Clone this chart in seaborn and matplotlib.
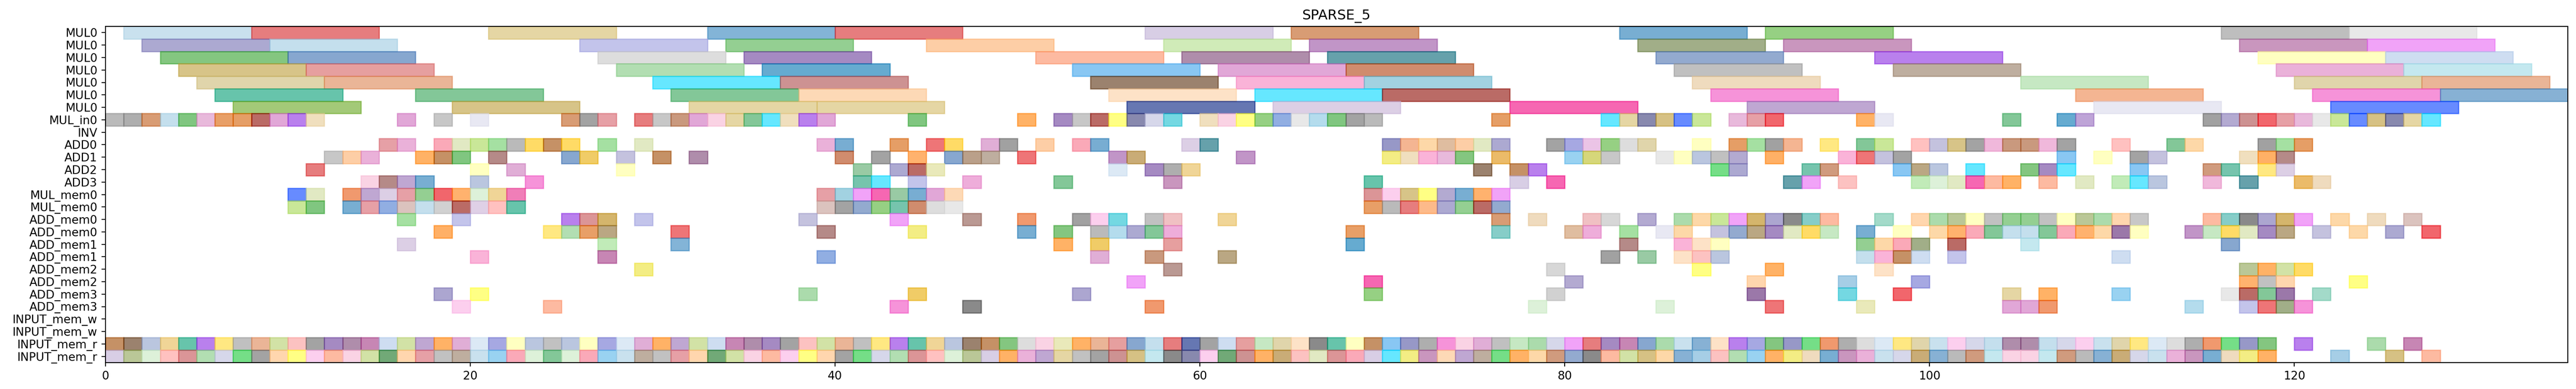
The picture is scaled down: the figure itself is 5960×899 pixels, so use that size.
import matplotlib
matplotlib.use("Agg")
import matplotlib.pyplot as plt
import seaborn as sns

# ---- data --------------------------------------------------------------
TITLE = "SPARSE_5"
X_MAX = 135
MUL_DURATION = 7  # MUL0 ops span 7 cycles, everything else 1

row_labels = ["MUL0", "MUL0", "MUL0", "MUL0", "MUL0", "MUL0", "MUL0",
              "MUL_in0", "INV", "ADD0", "ADD1", "ADD2", "ADD3",
              "MUL_mem0", "MUL_mem0", "ADD_mem0", "ADD_mem0",
              "ADD_mem1", "ADD_mem1", "ADD_mem2", "ADD_mem2",
              "ADD_mem3", "ADD_mem3", "INPUT_mem_w", "INPUT_mem_w",
              "INPUT_mem_r", "INPUT_mem_r"]

# start cycle of every MUL0 operation, one list per MUL0 lane
mul0_lane0 = [1, 8, 21, 33, 40, 57, 65, 83, 91, 116, 123]
mul0_lane1 = [2, 9, 26, 34, 45, 58, 66, 84, 92, 117, 124]
mul0_lane2 = [3, 10, 27, 35, 51, 59, 67, 85, 97, 118, 125]
mul0_lane3 = [4, 11, 28, 36, 53, 61, 68, 86, 98, 119, 126]
mul0_lane4 = [5, 12, 30, 37, 54, 62, 69, 87, 105, 120, 127]
mul0_lane5 = [6, 17, 31, 38, 55, 63, 70, 88, 108, 121, 128]
mul0_lane6 = [7, 19, 32, 39, 56, 64, 77, 90, 109, 122]

# single-cycle units: (first cycle, number of consecutive busy cycles)
mul_in0 = [(0, 12), (16, 1), (18, 1), (20, 1), (25, 3), (29, 11), (44, 1), (50, 1),
           (52, 7), (60, 10), (76, 1), (82, 6), (89, 3), (96, 2), (104, 1), (107, 2),
           (115, 13)]
inv = []
add0 = [(15, 2), (18, 8), (27, 1), (29, 1), (39, 2), (43, 1), (45, 2), (48, 2), (51, 1),
        (53, 2), (59, 2), (70, 7), (79, 6), (87, 1), (89, 4), (94, 1), (96, 2), (99, 9),
        (110, 1), (113, 2), (118, 3)]
add1 = [(12, 3), (17, 3), (21, 1), (25, 2), (28, 1), (30, 1), (32, 1), (40, 1), (42, 1),
        (44, 1), (46, 3), (50, 1), (55, 2), (62, 1), (70, 5), (76, 1), (80, 3), (85, 5),
        (91, 1), (95, 4), (107, 1), (109, 1), (111, 2), (117, 3)]
add2 = [(11, 1), (20, 1), (22, 1), (28, 1), (41, 1), (43, 3), (55, 1), (57, 3), (75, 1),
        (77, 2), (88, 2), (93, 2), (98, 3), (102, 1), (105, 3), (111, 1), (115, 2), (118, 2)]
add3 = [(14, 4), (20, 1), (23, 1), (41, 2), (44, 1), (47, 1), (52, 1), (58, 1), (69, 1),
        (77, 1), (79, 1), (92, 2), (95, 1), (99, 6), (106, 1), (108, 1), (110, 3), (115, 1),
        (117, 1), (120, 2)]
mul_mem0_a = [(10, 2), (13, 10), (39, 8), (69, 8)]
mul_mem0_b = [(10, 2), (13, 10), (39, 8), (69, 8)]
add_mem0_a = [(16, 1), (19, 1), (25, 3), (29, 1), (38, 1), (43, 1), (47, 1), (50, 1),
              (53, 3), (57, 2), (61, 1), (76, 1), (78, 1), (81, 2), (84, 1), (86, 9),
              (97, 1), (99, 13), (115, 6), (122, 1), (124, 1), (126, 1)]
add_mem0_b = [(18, 1), (24, 4), (31, 1), (39, 1), (44, 1), (50, 1), (52, 1), (54, 5),
              (68, 1), (76, 1), (80, 2), (83, 1), (85, 2), (88, 7), (96, 1), (98, 1),
              (100, 12), (114, 6), (121, 1), (123, 1), (125, 1), (127, 1)]
add_mem1_a = [(16, 1), (27, 1), (31, 1), (52, 1), (54, 1), (58, 1), (68, 1), (83, 1),
              (86, 3), (96, 4), (101, 1), (105, 1), (116, 1)]
add_mem1_b = [(20, 1), (27, 1), (39, 1), (54, 1), (57, 1), (61, 1), (82, 1), (84, 1),
              (86, 3), (96, 4), (101, 1), (110, 1)]
add_mem2_a = [(29, 1), (58, 1), (79, 1), (87, 1), (91, 1), (97, 1), (117, 4)]
add_mem2_b = [(56, 1), (69, 1), (80, 1), (90, 1), (95, 1), (99, 1), (117, 3), (123, 1)]
add_mem3_a = [(18, 1), (20, 1), (38, 1), (44, 1), (53, 1), (69, 1), (79, 1), (90, 1),
              (95, 1), (98, 1), (104, 1), (106, 1), (110, 1), (116, 4), (121, 1)]
add_mem3_b = [(19, 1), (24, 1), (43, 1), (47, 1), (57, 1), (78, 1), (85, 1), (91, 1),
              (96, 1), (104, 3), (114, 1), (117, 4)]
input_mem_w_a = []
input_mem_w_b = []
input_mem_r_a = [(0, 119), (120, 1), (124, 1), (126, 1)]
input_mem_r_b = [(0, 119), (122, 1), (125, 1), (127, 1)]

mul0_lanes = [mul0_lane0, mul0_lane1, mul0_lane2, mul0_lane3,
              mul0_lane4, mul0_lane5, mul0_lane6]
unit_rows = [mul_in0, inv, add0, add1, add2, add3, mul_mem0_a, mul_mem0_b,
             add_mem0_a, add_mem0_b, add_mem1_a, add_mem1_b, add_mem2_a, add_mem2_b,
             add_mem3_a, add_mem3_b, input_mem_w_a, input_mem_w_b,
             input_mem_r_a, input_mem_r_b]

# ---- style ---------------------------------------------------------------
sns.set_style("ticks", {"axes.edgecolor": "black", "xtick.color": "black",
                        "ytick.color": "black", "text.color": "black",
                        "axes.labelcolor": "black"})
plt.rcParams["font.family"] = ["DejaVu Sans"]
plt.rcParams["font.size"] = 10
plt.rcParams["axes.titlesize"] = 12
plt.rcParams["xtick.direction"] = "out"
plt.rcParams["ytick.direction"] = "out"

# a long mixed colour list so neighbouring ops get distinct colours
palette = []
for name in ["tab20", "Paired", "bright", "deep", "dark", "muted", "Set1", "Set2",
             "Accent", "Dark2", "tab20b", "tab20c", "husl", "colorblind"]:
    palette += list(sns.color_palette(name))


def pick_color(row, start):
    return palette[(row * 53 + start * 17 + start * start * 3) % len(palette)]


# ---- plot ----------------------------------------------------------------
DPI = 192
fig, ax = plt.subplots(figsize=(5960 / DPI, 899 / DPI), dpi=DPI)
fig.subplots_adjust(left=244 / 5960, right=5941 / 5960, bottom=61 / 899, top=1 - 61 / 899)

rows = []
for lane in mul0_lanes:
    rows.append([(s, MUL_DURATION) for s in lane])
for runs in unit_rows:
    cells = []
    for first, count in runs:
        cells += [(first + k, 1) for k in range(count)]
    rows.append(cells)

for y, cells in enumerate(rows):
    if not cells:
        continue
    lefts = [c[0] for c in cells]
    widths = [c[1] for c in cells]
    colors = [pick_color(y, s) for s in lefts]
    ax.barh([y] * len(cells), widths, left=lefts, height=1.0,
            color=colors, edgecolor=colors, alpha=0.6, linewidth=1.0)

ax.set_yticks(range(len(row_labels)))
ax.set_yticklabels(row_labels)
ax.set_ylim(len(row_labels) - 0.5, -0.5)
ax.set_xlim(0, X_MAX)
ax.set_title(TITLE)

fig.savefig("out.png", dpi=DPI)
plt.close(fig)
